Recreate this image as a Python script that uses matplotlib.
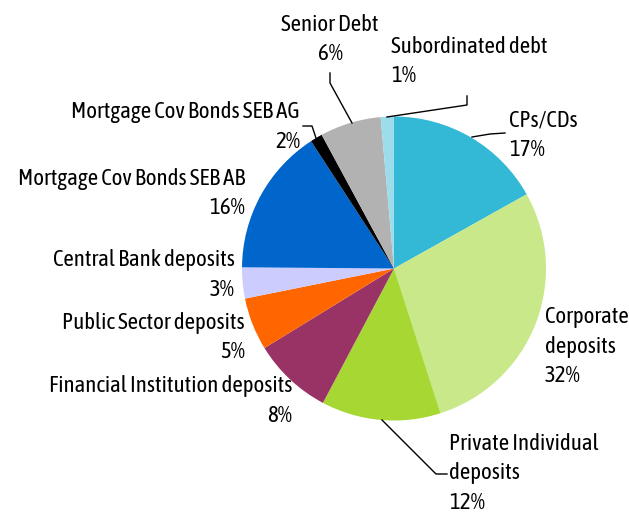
import matplotlib
matplotlib.use("Agg")
import matplotlib.pyplot as plt
from matplotlib import font_manager

# Funding structure (slice sizes, labels as printed)
categories = [
    "CPs/CDs", "Corporate\ndeposits", "Private Individual\ndeposits",
    "Financial Institution deposits", "Public Sector deposits",
    "Central Bank deposits", "Mortgage Cov Bonds SEB AB",
    "Mortgage Cov Bonds SEB AG", "Senior Debt", "Subordinated debt",
]
shares = [16.9, 28.2, 12.7, 8.5, 5.6, 3.3, 15.7, 1.3, 6.5, 1.4]
pct_labels = ["17%", "32%", "12%", "8%", "5%", "3%", "16%", "2%", "6%", "1%"]
colors = ["#33B8D6", "#C8E88A", "#A6D733", "#993366", "#FF6600",
          "#CCCCFF", "#0066CC", "#000000", "#B2B2B2", "#9DDCEB"]

# pick a condensed face if one is installed
names = {f.name for f in font_manager.fontManager.ttflist}
family = [n for n in ["Asap Condensed", "Archivo Narrow", "Barlow Semi Condensed",
                      "Liberation Sans Narrow"] if n in names][:1] + ["DejaVu Sans"]
plt.rcParams["font.family"] = family

W, H = 629, 512
fig = plt.figure(figsize=(W / 100, H / 100), dpi=100)
ax = fig.add_axes([0, 0, 1, 1])

cx, cy, r = 394, H - 268.5, 152
ax.pie(shares, colors=colors, startangle=90, counterclock=False,
       center=(cx, cy), radius=r, wedgeprops=dict(linewidth=0))
ax.set_xlim(0, W)
ax.set_ylim(0, H)
ax.set_aspect("equal")
ax.axis("off")

fs = 16.5
# label placement: (x, y of first line centre in image px, alignment)
places = [
    (509, 121, "left"),
    (545, 317, "left"),
    (449, 444, "left"),
    (292, 386, "right"),
    (245, 323, "right"),
    (235, 260, "right"),
    (245, 179, "right"),
    (300, 112, "right"),
    (330, 25, "center"),
    (391, 47, "left"),
]
for cat, pct, (x, y, ha) in zip(categories, pct_labels, places):
    lines = cat.split("\n") + [pct]
    for i, line in enumerate(lines):
        ax.text(x, H - (y + 29.5 * i), line, ha=ha, va="center", fontsize=fs,
                color="black")

# leader lines (image px)
leaders = [
    [(505, 133), (490, 134), (472, 137)],
    [(447, 474), (436, 474), (382, 420)],
    [(303, 126), (312, 126), (316, 138)],
    [(330, 73), (330, 83), (352, 123)],
    [(467, 96), (467, 105), (387, 117)],
]
for pts in leaders:
    xs = [p[0] for p in pts]
    ys = [H - p[1] for p in pts]
    ax.plot(xs, ys, color="black", linewidth=1)

fig.savefig("out.png", dpi=100)
